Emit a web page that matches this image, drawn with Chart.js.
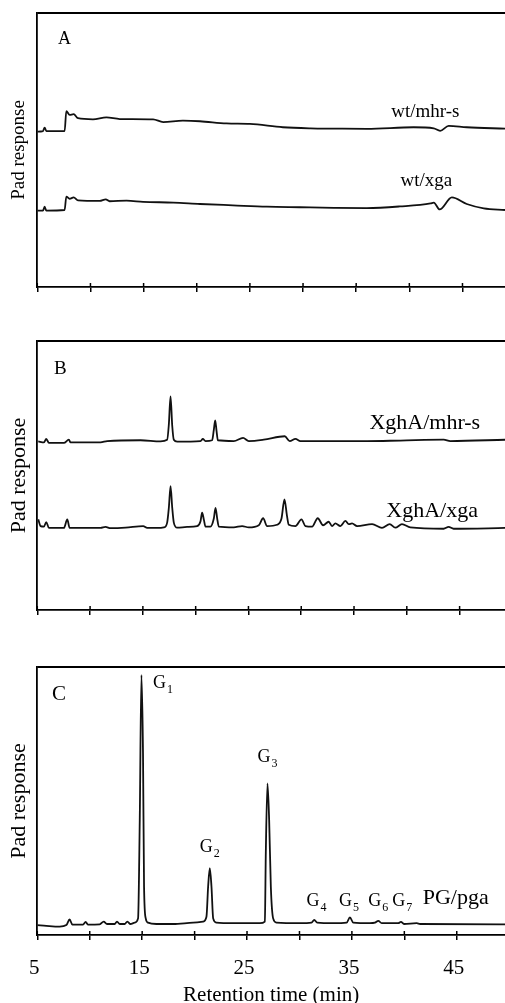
<!DOCTYPE html>
<html>
<head>
<meta charset="utf-8">
<title>PAD chromatograms</title>
<script src="https://cdn.jsdelivr.net/npm/chart.js@4.4.1/dist/chart.umd.min.js"></script>
<style>
  html, body { margin: 0; padding: 0; background: #fff; overflow: hidden; }
  body { width: 505px; height: 1003px; position: relative; }
  canvas { position: absolute; left: 0; }
</style>
</head>
<body>
<canvas id="panelA" width="505" height="300" style="top:0"></canvas>
<canvas id="panelB" width="505" height="320" style="top:300px"></canvas>
<canvas id="panelC" width="505" height="390" style="top:620px"></canvas>
<script>
// Retention time (min) and PAD response (arbitrary units, traces offset as in the figure)

// Panel A
const timeWtMhr = [5.0, 5.53, 5.69, 5.85, 7.57, 7.73, 8.04, 8.42, 8.83, 10.24, 11.5, 12.76, 15.9, 16.84, 18.7, 20.3, 22.8, 25.0, 28.1, 30.7, 32.9, 36.0, 40.4, 42.3, 42.9, 43.7, 45.4, 49.0];
const respWtMhr = [56.7, 56.9, 58.2, 56.9, 56.9, 64.2, 62.8, 63.1, 61.6, 61.2, 61.9, 61.3, 61.2, 60.2, 60.7, 60.5, 59.7, 59.5, 58.3, 57.9, 57.8, 57.7, 58.3, 57.9, 57.0, 58.8, 58.3, 57.8];
const timeWtXga = [5.0, 5.53, 5.69, 5.85, 7.57, 7.73, 8.04, 8.42, 8.83, 10.87, 11.44, 11.8, 13.4, 14.95, 17.8, 20.3, 23.4, 26.6, 29.7, 32.9, 36.0, 39.1, 42.0, 42.3, 42.85, 44.0, 45.4, 47.0, 49.0];
const respWtXga = [27.9, 27.9, 29.3, 27.9, 28.1, 33.0, 32.2, 32.7, 31.6, 31.4, 32.0, 31.3, 31.5, 31.1, 30.8, 30.3, 29.8, 29.3, 29.1, 28.9, 28.8, 29.4, 30.5, 30.8, 28.3, 32.7, 30.3, 28.7, 28.1];

// Panel B
const timeXghMhr = [5.09, 5.63, 5.85, 6.10, 7.52, 7.99, 8.15, 10.99, 11.62, 14.78, 16.67, 17.30, 17.46, 17.62, 17.78, 17.93, 18.25, 20.46, 20.68, 20.93, 21.56, 21.72, 21.85, 21.98, 22.10, 23.61, 24.49, 25.03, 26.45, 28.44, 28.91, 29.45, 29.92, 33.08, 36.23, 39.39, 43.49, 44.12, 49.33];
const respXghMhr = [62.7, 62.3, 63.6, 62.1, 62.1, 63.3, 62.3, 62.3, 62.8, 63.1, 62.7, 63.3, 69.0, 79.4, 68.5, 63.3, 62.6, 62.8, 63.6, 62.8, 63.1, 67.0, 70.5, 66.5, 63.1, 62.8, 64.0, 62.8, 63.3, 64.6, 62.8, 63.6, 62.8, 62.8, 62.8, 63.0, 63.3, 62.8, 63.3];
const timeXghXga = [5.09, 5.31, 5.63, 5.85, 6.10, 7.52, 7.84, 8.06, 10.99, 11.46, 11.94, 13.36, 15.03, 15.41, 16.36, 16.99, 17.30, 17.46, 17.62, 17.78, 17.93, 18.25, 19.19, 20.14, 20.46, 20.61, 20.78, 20.93, 21.40, 21.72, 21.88, 22.04, 22.19, 23.61, 24.40, 25.03, 25.98, 26.39, 26.77, 27.71, 28.13, 28.41, 28.65, 28.82, 29.45, 30.02, 30.40, 31.03, 31.56, 32.07, 32.60, 32.92, 33.23, 33.71, 34.18, 34.50, 34.81, 35.29, 36.71, 37.65, 38.38, 38.91, 39.54, 40.33, 43.49, 43.96, 44.43, 49.33];
const respXghXga = [33.7, 31.2, 31.0, 32.7, 30.5, 30.5, 33.7, 30.5, 30.5, 30.9, 30.4, 30.6, 31.2, 30.5, 30.5, 30.7, 32.5, 38.0, 46.0, 38.0, 32.5, 30.6, 30.9, 31.2, 33.0, 36.2, 33.5, 31.0, 31.0, 34.0, 38.0, 34.0, 31.0, 30.7, 31.2, 30.7, 31.5, 34.1, 31.2, 31.7, 34.0, 41.1, 35.0, 31.7, 31.2, 33.7, 31.2, 31.0, 34.1, 31.5, 32.8, 31.2, 32.2, 31.2, 33.1, 31.9, 32.2, 31.2, 31.9, 30.5, 31.9, 30.6, 31.9, 30.7, 30.2, 30.9, 30.2, 30.5];

// Panel C
const timePgPga = [5.0, 5.86, 7.13, 7.77, 8.08, 8.34, 9.36, 9.61, 9.83, 10.95, 11.33, 11.65, 12.38, 12.60, 12.86, 13.33, 13.59, 13.88, 14.29, 14.61, 14.77, 14.93, 15.08, 15.18, 15.34, 15.56, 16.36, 17.95, 19.86, 20.81, 21.13, 21.29, 21.45, 21.61, 21.77, 22.08, 23.68, 26.22, 26.70, 26.79, 26.95, 27.11, 27.27, 27.49, 27.81, 30.04, 31.15, 31.41, 31.69, 33.22, 34.50, 34.81, 35.13, 36.72, 37.20, 37.52, 37.84, 39.43, 39.68, 39.97, 41.18, 41.50, 49.61];
const respPgPga = [3.7, 3.4, 3.1, 3.7, 5.8, 3.9, 3.9, 4.9, 3.9, 4.0, 5.0, 4.1, 4.1, 5.0, 4.1, 4.1, 5.0, 4.1, 4.6, 6.2, 42.9, 97.0, 67.8, 18.0, 6.2, 4.6, 4.1, 4.1, 4.6, 5.0, 6.8, 18.0, 24.9, 18.0, 6.2, 4.6, 4.4, 4.4, 5.0, 30.5, 56.6, 42.9, 18.0, 6.2, 4.6, 4.4, 4.6, 5.6, 4.6, 4.4, 4.6, 6.6, 4.6, 4.4, 4.6, 5.3, 4.4, 4.4, 4.9, 4.1, 4.4, 4.1, 4.0];

const xTickStep = 5;
const xLabelStep = 10;

const serif = "'Liberation Serif', 'Times New Roman', serif";
Chart.defaults.font.family = serif;
Chart.defaults.color = '#000';

function toPoints(times, values) {
    return times.map((t, i) => ({ x: t, y: values[i] }));
}

// frame top line, inner tick halves, and text labels placed in data units
const annotate = {
    id: 'annotate',
    afterDraw(chart, args, opts) {
        const { ctx, chartArea: a } = chart;
        const x = chart.scales.x, y = chart.scales.y;
        ctx.save();
        ctx.strokeStyle = '#000';
        ctx.lineWidth = 1.8;
        ctx.beginPath();
        ctx.moveTo(a.left, a.top);
        ctx.lineTo(a.right, a.top);
        ctx.stroke();

        ctx.lineWidth = 1.5;
        x.ticks.forEach(t => {
            const px = x.getPixelForValue(t.value);
            ctx.beginPath();
            ctx.moveTo(px, a.bottom);
            ctx.lineTo(px, a.bottom - 4);
            ctx.stroke();
        });

        ctx.fillStyle = '#000';
        (opts.labels || []).forEach(l => {
            const px = x.getPixelForValue(l.x);
            const py = y.getPixelForValue(l.y);
            ctx.font = l.size + 'px ' + serif;
            ctx.textAlign = l.sub ? 'left' : 'center';
            ctx.textBaseline = l.sub ? 'alphabetic' : 'middle';
            ctx.fillText(l.text, px, py);
            if (l.sub) {
                const w = ctx.measureText(l.text).width;
                ctx.font = Math.round(l.size * 0.68) + 'px ' + serif;
                ctx.fillText(l.sub, px + w + 1, py + 5);
            }
        });
        ctx.restore();
    }
};

function makePanel(id, p) {
    new Chart(document.getElementById(id), {
        type: 'line',
        data: {
            datasets: p.traces.map(tr => ({
                data: toPoints(tr[0], tr[1]),
                borderColor: '#111',
                borderWidth: 1.8,
                pointRadius: 0,
                cubicInterpolationMode: 'monotone',
                fill: false
            }))
        },
        options: {
            responsive: false,
            animation: false,
            devicePixelRatio: 1,
            layout: { padding: { top: p.padTop, right: 0, bottom: 0, left: 0 } },
            plugins: {
                legend: { display: false },
                tooltip: { enabled: false },
                annotate: { labels: p.labels }
            },
            scales: {
                x: {
                    type: 'linear',
                    min: 5,
                    max: p.xMax,
                    afterFit: s => { s.height = p.axisHeight; },
                    border: { display: true, color: '#000', width: 1.8 },
                    grid: { display: true, drawOnChartArea: false, drawTicks: true, tickLength: 5, color: '#000', lineWidth: 1.5 },
                    ticks: {
                        display: p.tickLabels,
                        stepSize: xTickStep,
                        includeBounds: false,
                        autoSkip: false,
                        maxRotation: 0,
                        padding: 16,
                        labelOffset: -3,
                        color: '#000',
                        font: { size: 21 },
                        callback: v => ((v - 5) % xLabelStep === 0 ? String(v) : '')
                    },
                    title: {
                        display: !!p.xTitle,
                        text: p.xTitle || '',
                        color: '#000',
                        font: { size: 21 },
                        padding: { top: 0, bottom: 2 }
                    }
                },
                y: {
                    min: 0,
                    max: 100,
                    afterFit: s => { s.width = 37.3; },
                    border: { display: true, color: '#000', width: 1.8 },
                    grid: { display: false },
                    ticks: { display: false },
                    title: {
                        display: true,
                        text: 'Pad response',
                        color: '#000',
                        font: { size: p.yTitleSize },
                        padding: { top: p.yTitlePad, bottom: 0 }
                    }
                }
            }
        },
        plugins: [annotate]
    });
}

makePanel('panelA', {
    traces: [[timeWtMhr, respWtMhr], [timeWtXga, respWtXga]],
    xMax: 49.0, padTop: 13, axisHeight: 13, tickLabels: false,
    yTitleSize: 19, yTitlePad: 8,
    labels: [
        { text: 'A', x: 7.57, y: 90.3, size: 18 },
        { text: 'wt/mhr-s', x: 41.5, y: 63.9, size: 19 },
        { text: 'wt/xga', x: 41.6, y: 38.6, size: 19 }
    ]
});

makePanel('panelB', {
    traces: [[timeXghMhr, respXghMhr], [timeXghXga, respXghXga]],
    xMax: 49.3, padTop: 41, axisHeight: 10, tickLabels: false,
    yTitleSize: 22, yTitlePad: 6,
    labels: [
        { text: 'B', x: 7.18, y: 89.4, size: 19 },
        { text: 'XghA/mhr-s', x: 41.7, y: 69.5, size: 22 },
        { text: 'XghA/xga', x: 42.4, y: 36.8, size: 22 }
    ]
});

makePanel('panelC', {
    traces: [[timePgPga, respPgPga]],
    xMax: 49.6, padTop: 47, axisHeight: 75, tickLabels: true,
    xTitle: 'Retention time (min)',
    yTitleSize: 22, yTitlePad: 6,
    labels: [
        { text: 'C', x: 7.08, y: 89.9, size: 21 },
        { text: 'G', sub: '1', x: 16.04, y: 92.1, size: 18 },
        { text: 'G', sub: '2', x: 20.49, y: 30.9, size: 18 },
        { text: 'G', sub: '3', x: 26.0, y: 64.4, size: 18 },
        { text: 'G', sub: '4', x: 30.68, y: 10.9, size: 18 },
        { text: 'G', sub: '5', x: 33.76, y: 10.9, size: 18 },
        { text: 'G', sub: '6', x: 36.56, y: 10.9, size: 18 },
        { text: 'G', sub: '7', x: 38.85, y: 10.9, size: 18 },
        { text: 'PG/pga', x: 44.9, y: 13.7, size: 22 }
    ]
});
</script>
</body>
</html>
